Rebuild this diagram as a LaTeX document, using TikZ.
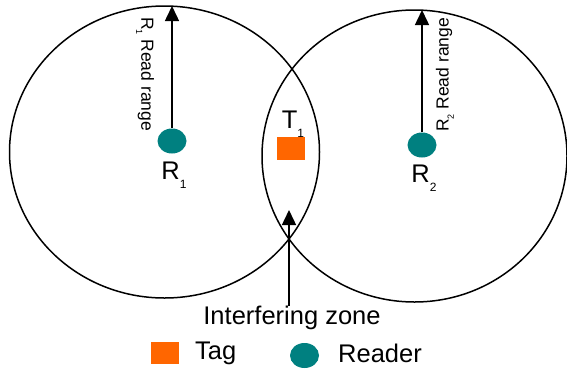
\documentclass[tikz,border=0pt]{standalone}
\usepackage{fontspec}
\setmainfont{Liberation Sans}
\usetikzlibrary{arrows.meta,shapes.geometric}
\definecolor{tagorange}{HTML}{FF6600}
\definecolor{readerteal}{HTML}{008080}
\newcommand\lblsub[1]{\raisebox{-0.35em}{\fontsize{12}{12}\selectfont #1}}
\newcommand\smsub[1]{\raisebox{-0.3em}{\fontsize{9}{9}\selectfont #1}}
\tikzset{
  rangeline/.style={line width=1.5pt},
  reader/.style={ellipse, fill=readerteal, minimum width=29pt, minimum height=25pt, inner sep=0pt},
  tag/.style={rectangle, fill=tagorange, minimum width=28pt, minimum height=23pt, inner sep=0pt},
  big/.style={font=\fontsize{25.5}{29}\selectfont, inner sep=0pt},
  small/.style={font=\fontsize{17.5}{20}\selectfont, inner sep=0pt},
  arr/.style={line width=1.5pt, -{Triangle[length=15pt,width=14pt]}}
}
\begin{document}
\begin{tikzpicture}[x=1pt,y=-1pt]
\useasboundingbox (0,0) rectangle (567,370);
% range ellipses
\draw[rangeline] (164.5,152) ellipse [x radius=155, y radius=146];
\draw[rangeline] (414.5,156) ellipse [x radius=152.5, y radius=146];
% readers
\node[reader] (r1) at (172,141) {};
\node[reader] (r2) at (422,145) {};
\node[big] (r1l) at (174,175) {R\lblsub{1}};
\node[big] (r2l) at (424,178) {R\lblsub{2}};
% tag
\node[tag] (t1) at (291,148.5) {};
\node[big] (t1l) at (293,124) {T\lblsub{1}};
% read range arrows
\coordinate (top1) at (172,6);
\coordinate (top2) at (422,10);
\draw[arr] (r1.north) -- (top1);
\draw[arr] (r2.north) -- (top2);
\node[small, rotate=-90] (rr1) at (145,74) {R\smsub{1} Read range};
\node[small, rotate=90] (rr2) at (445,75) {R\smsub{2} Read range};
% interfering zone
\node[big] (iz) at (292,318) {Interfering zone};
\coordinate (izb) at (289,306);
\coordinate (izt) at (289,210);
\draw[arr] (izb) -- (izt);
% legend
\node[tag, minimum width=28pt, minimum height=22pt] (lt) at (165,353) {};
\node[big, anchor=west] (ltl) at (195,353) {Tag};
\node[reader] (lr) at (304.5,355.5) {};
\node[big, anchor=west] (lrl) at (338,353) {Reader};
\end{tikzpicture}
\end{document}
